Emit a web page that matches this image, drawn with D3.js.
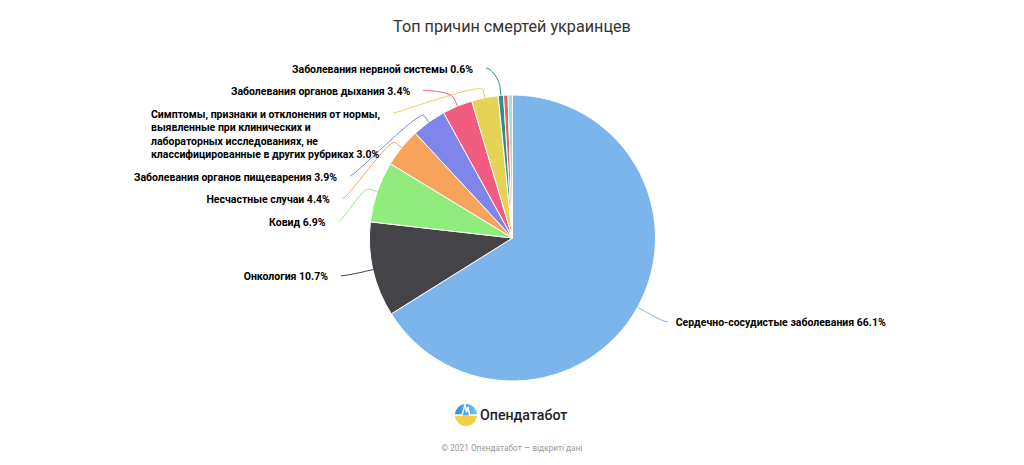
<!DOCTYPE html>
<html>
<head>
<meta charset="utf-8">
<script src="https://cdn.jsdelivr.net/npm/d3@7"></script>
<style>
    body { margin: 0; background: #fff; }
    svg { display: block; }
    .title { font-family: Roboto, sans-serif; font-size: 16.2px; fill: #333; }
    .pieLabel { font-family: Roboto, sans-serif; font-size: 10.5px; font-weight: bold; fill: #000; }
    .brand { font-family: Roboto, sans-serif; font-size: 14.2px; font-weight: 500; fill: #222; }
    .credits { font-family: Roboto, sans-serif; font-size: 8.3px; fill: #999; }
</style>
</head>
<body>
<svg id="canvas" width="1024" height="465"></svg>
<script>
const WIDTH = 1024;
const HEIGHT = 465;
const CENTER_X = 512.5;
const CENTER_Y = 238;
const RADIUS = 143;
const LABEL_RADIUS = 175;
const BREAK_OFFSET = 8;
const LINE_HEIGHT = 13.5;
const BOX_HEIGHT = 22.5;
const LABEL_TOP = 69;
const LEFT_GAP = 13;
const RIGHT_GAP = 8;
const MIN_LABEL_SHARE = 0.6;

// causes of death, share in %
var causes = [
    "Сердечно-сосудистые заболевания",
    "Онкология",
    "Ковид",
    "Несчастные случаи",
    "Заболевания органов пищеварения",
    "Заболевания органов дыхания",
    "Симптомы, признаки и отклонения от нормы,\nвыявленные при клинических и\nлабораторных исследованиях, не\nклассифицированные в других рубриках",
    "Заболевания нервной системы",
    "Заболевания мочеполовой системы",
    "Другие причины"
];
var shares = [66.1, 10.7, 6.9, 4.4, 3.9, 3.4, 3.0, 0.6, 0.5, 0.5];

// highcharts default palette
var palette = ["#7cb5ec", "#434348", "#90ed7d", "#f7a35c", "#8085e9",
    "#f15c80", "#e4d354", "#2b908f", "#f45b5b", "#91e8e1"];

var svg = d3.select("#canvas");

svg.append("text")
    .attr("class", "title")
    .attr("x", WIDTH / 2)
    .attr("y", 32)
    .attr("text-anchor", "middle")
    .text("Топ причин смертей украинцев");

var data = causes.map(function (c, i) {
    return {name: c, value: shares[i], color: palette[i % palette.length], i: i};
});

var pie = d3.pie().sort(null).value(function (d) { return d.value; });
var arcs = pie(data);
var arc = d3.arc().innerRadius(0).outerRadius(RADIUS);

var chart = svg.append("g");
var sliceG = chart.append("g")
    .attr("transform", "translate(" + CENTER_X + "," + CENTER_Y + ")");

sliceG.selectAll("path")
    .data(arcs)
    .enter().append("path")
    .attr("d", arc)
    .attr("fill", function (d) { return d.data.color; })
    .attr("stroke", "#fff")
    .attr("stroke-width", 1)
    .attr("stroke-linejoin", "round");

/**
 * build label objects with natural positions
 */
function makeLabels(arcs) {
    var labels = [];
    for (var i = 0; i < arcs.length; i++) {
        var a = arcs[i];
        if (a.data.value < MIN_LABEL_SHARE) {
            continue;
        }
        var mid = (a.startAngle + a.endAngle) / 2;
        var lines = a.data.name.split("\n");
        lines[lines.length - 1] += " " + a.data.value.toFixed(1) + "%";
        var h = BOX_HEIGHT + (lines.length - 1) * LINE_HEIGHT;
        labels.push({
            arc: a,
            mid: mid,
            left: mid > Math.PI,
            lines: lines,
            h: h,
            natural: CENTER_Y - LABEL_RADIUS * Math.cos(mid)
        });
    }
    return labels;
}

/**
 * stack labels of one half so that they do not overlap,
 * then put each one on the label circle
 */
function placeHalf(labels) {
    labels.sort(function (a, b) {
        return (a.natural + a.h / 2) - (b.natural + b.h / 2);
    });
    var nextY = LABEL_TOP;
    for (var i = 0; i < labels.length; i++) {
        var l = labels[i];
        l.y = Math.max(l.natural, nextY);
        nextY = l.y + l.h;
        var dy = Math.max(-LABEL_RADIUS, Math.min(LABEL_RADIUS, l.y - 4 - CENTER_Y));
        var dx = Math.sqrt(LABEL_RADIUS * LABEL_RADIUS - dy * dy);
        l.x = CENTER_X + (l.left ? -dx : dx);
    }
}

var labels = makeLabels(arcs);
placeHalf(labels.filter(function (l) { return l.left; }));
placeHalf(labels.filter(function (l) { return !l.left; }));

var connG = chart.append("g");
var labelG = chart.append("g");

labels.forEach(function (l) {
    var sin = Math.sin(l.mid), cos = Math.cos(l.mid);
    var tx = CENTER_X + RADIUS * sin, ty = CENTER_Y - RADIUS * cos;
    var bx = CENTER_X + (RADIUS + BREAK_OFFSET) * sin, by = CENTER_Y - (RADIUS + BREAK_OFFSET) * cos;
    var lx = l.x, ly = l.y - 1;
    // soft connector: label -> curve -> break point -> slice edge
    var p = d3.path();
    p.moveTo(lx, ly);
    p.bezierCurveTo(lx + (l.left ? 5 : -5), ly, 2 * bx - tx, 2 * by - ty, bx, by);
    p.lineTo(tx, ty);
    connG.append("path")
        .attr("d", p.toString())
        .attr("fill", "none")
        .attr("stroke", l.arc.data.color)
        .attr("stroke-width", 1);

    var text = labelG.append("text")
        .attr("class", "pieLabel")
        .attr("y", l.y);
    var spans = [];
    l.lines.forEach(function (line, k) {
        spans.push(text.append("tspan")
            .attr("y", l.y + k * LINE_HEIGHT)
            .attr("dy", "0.35em")
            .text(line));
    });
    var maxW = 0;
    spans.forEach(function (s) {
        maxW = Math.max(maxW, s.node().getComputedTextLength());
    });
    var startX = l.left ? lx - LEFT_GAP - maxW : lx + RIGHT_GAP;
    spans.forEach(function (s) { s.attr("x", startX); });
});

// brand
var defs = svg.append("defs");
var grad = defs.append("linearGradient")
    .attr("id", "skyGrad")
    .attr("x1", "0").attr("y1", "0").attr("x2", "1").attr("y2", "0");
grad.append("stop").attr("offset", "0").attr("stop-color", "#2b8fe3");
grad.append("stop").attr("offset", "1").attr("stop-color", "#74c4f4");
defs.append("clipPath").attr("id", "logoClip")
    .append("circle").attr("cx", 466).attr("cy", 415).attr("r", 11);

var logo = svg.append("g").attr("clip-path", "url(#logoClip)");
logo.append("rect").attr("x", 455).attr("y", 404).attr("width", 22).attr("height", 11)
    .attr("fill", "url(#skyGrad)");
logo.append("rect").attr("x", 455).attr("y", 415).attr("width", 22).attr("height", 11)
    .attr("fill", "#f3cf45");
logo.append("path")
    .attr("d", "M455,415 L462,415 L463.5,410 L465,404 L466.5,412 L468,407 L469.5,415 L477,415")
    .attr("fill", "none")
    .attr("stroke", "#fff")
    .attr("stroke-width", 1.4);

svg.append("text")
    .attr("class", "brand")
    .attr("x", 480)
    .attr("y", 419.5)
    .text("Опендатабот");

svg.append("text")
    .attr("class", "credits")
    .attr("x", WIDTH / 2)
    .attr("y", 450.5)
    .attr("text-anchor", "middle")
    .text("© 2021 Опендатабот — відкриті дані");
</script>
</body>
</html>
